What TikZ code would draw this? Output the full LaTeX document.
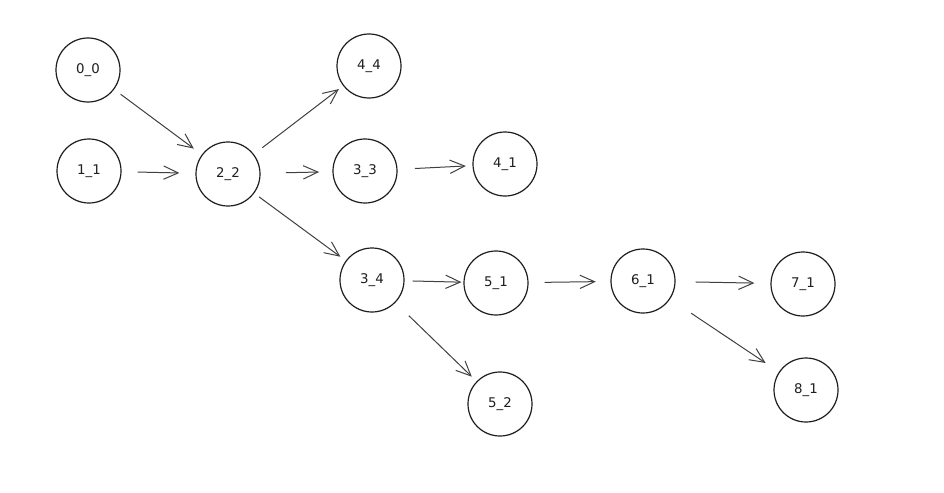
\documentclass[tikz,border=0pt]{standalone}
\usepackage{fontspec}
\setmainfont{DejaVu Sans}
\usetikzlibrary{arrows.meta}
\definecolor{ink}{HTML}{1E1E1E}
\begin{document}
\begin{tikzpicture}[x=0.75pt,y=-0.75pt,
  state/.style={circle,draw=ink,line width=0.9pt,minimum size=48pt,inner sep=0pt,font=\fontsize{10}{12}\selectfont,text=ink},
  link/.style={draw=ink!85,line width=0.75pt,-{Straight Barb[length=11pt,width=10pt,line width=0.75pt]}}]
\useasboundingbox[fill=white] (0,0) rectangle (944,492);
\node[state] (n00) at (88,70) {0\_0};
\node[state] (n11) at (89,171) {1\_1};
\node[state] (n22) at (228,174) {2\_2};
\node[state] (n44) at (369,66) {4\_4};
\node[state] (n33) at (365,171) {3\_3};
\node[state] (n41) at (505,164) {4\_1};
\node[state] (n34) at (372,280) {3\_4};
\node[state] (n51) at (496,283) {5\_1};
\node[state] (n61) at (643,281) {6\_1};
\node[state] (n71) at (803,284) {7\_1};
\node[state] (n52) at (500,404) {5\_2};
\node[state] (n81) at (806,390) {8\_1};
\draw[link,shorten <=6pt,shorten >=7.5pt] (n00) -- (n22);
\draw[link,shorten <=12pt,shorten >=12pt] (n11) -- (n22);
\draw[link,shorten <=8pt,shorten >=4pt] (n22) -- (n44);
\draw[link,shorten <=19pt,shorten >=10pt] (n22) -- (n33);
\draw[link,shorten <=13pt,shorten >=5pt] (n33) -- (n41);
\draw[link,shorten <=4.5pt,shorten >=5pt] (n22) -- (n34);
\draw[link,shorten <=6pt,shorten >=1.5pt] (n34) -- (n51);
\draw[link,shorten <=14pt,shorten >=5pt] (n34) -- (n52);
\draw[link,shorten <=12pt,shorten >=11pt] (n51) -- (n61);
\draw[link,shorten <=15pt,shorten >=12pt] (n61) -- (n71);
\draw[link,shorten <=19pt,shorten >=12pt] (n61) -- (n81);
\end{tikzpicture}
\end{document}
